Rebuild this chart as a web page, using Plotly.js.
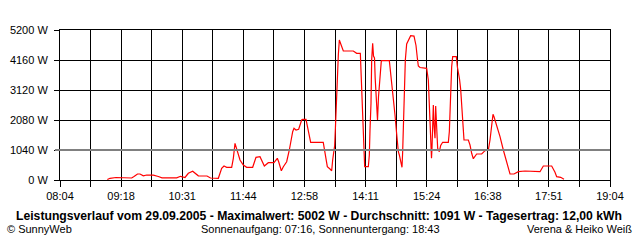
<!DOCTYPE html>
<html><head><meta charset="utf-8">
<script src="https://cdn.plot.ly/plotly-3.0.1.min.js"></script>
<style>html,body{margin:0;padding:0;background:#fff}#c{width:640px;height:240px}</style>
</head><body><div id="c"></div>
<script>
// time in minutes after midnight, power in W
const timeMin = [540.8,544.0,551.2,556.8,558.4,570.0,572.8,577.0,580.0,584.0,588.0,596.0,602.0,606.4,624.0,628.6,634.0,638.0,643.2,650.0,
660.4,664.6,674.0,678.0,680.8,684.0,690.0,692.0,694.0,695.2,696.8,700.0,704.0,708.0,715.2,719.2,724.0,729.2,734.0,740.8,
744.8,746.4,749.6,752.0,756.0,759.2,763.2,764.8,767.2,770.4,774.0,775.2,779.2,780.8,783.2,784.8,799.9,802.0,804.8,808.0,
810.0,811.2,812.8,813.6,814.4,815.2,816.8,818.0,819.2,820.6,822.0,824.0,836.0,838.0,840.0,844.4,845.2,846.6,848.0,849.0,
849.6,854.0,855.2,856.0,857.2,858.0,859.2,860.2,861.4,862.2,863.2,865.0,866.2,868.0,869.6,879.2,880.0,882.0,883.6,884.8,
886.0,887.8,888.8,890.0,891.2,892.8,894.4,895.2,896.0,897.2,898.4,900.0,902.0,904.8,908.8,911.2,912.8,914.0,916.0,924.0,
926.0,927.2,928.0,928.8,929.8,930.4,931.2,932.0,932.8,934.0,934.8,936.0,937.2,939.2,940.8,943.2,950.0,951.2,952.0,953.2,
954.0,955.2,959.6,960.8,962.2,963.4,964.8,966.0,967.2,968.0,968.8,974.0,976.0,978.0,980.0,984.0,990.0,994.0,998.0,1000.0,
1002.0,1003.6,1004.8,1006.0,1008.8,1012.0,1016.0,1020.0,1024.0,1028.8,1034.0,1042.0,1052.0,1060.0,1064.0,1074.0,1078.0,1080.0,1084.8,1088.8];
const powerW = [17,59,87,87,69,69,121,208,208,146,173,166,121,76,76,128,87,232,305,146,
139,69,59,406,485,440,440,752,1272,1154,1040,693,520,440,440,787,808,485,600,600,
752,634,322,461,634,1040,1674,1792,1733,1758,2080,2104,2104,1907,1501,1307,1307,981,461,381,
322,693,981,1189,1733,2659,3467,4333,4853,4739,4593,4472,4472,4427,4392,4392,3872,2888,1966,1040,
461,461,867,1733,2659,4160,4739,4299,4229,3536,3006,2080,2888,3467,4136,4136,3928,3467,2947,2600,
2253,1664,1213,981,867,634,440,981,2021,3061,4160,4715,4853,5002,4990,4663,4229,3952,3900,3872,
3467,2600,1848,1154,752,1099,1907,2600,1907,1446,2565,1560,1099,981,1196,1307,1307,1674,2427,3179,
3928,4274,4274,3928,3709,3501,3144,2659,2139,1674,1387,1387,1213,926,738,901,901,1016,1040,1387,
1907,2278,2194,2080,1848,1501,1040,579,208,208,288,312,295,288,485,485,267,114,94,24];

const axisStart = 484, axisEnd = 1144;   // 08:04 .. 19:04
const xLabels = ['08:04','','09:18','','10:31','','11:44','','12:58','','14:11','','15:24','','16:38','','17:51','','19:04'];
const yVals = [0,1040,2080,3120,4160,5200];
const yLabels = ['0 W','1040 W','2080 W','3120 W','4160 W','5200 W'];
const avgLevel = 1040;
const titleText = 'Leistungsverlauf vom 29.09.2005 - Maximalwert: 5002 W - Durchschnitt: 1091 W - Tagesertrag: 12,00 kWh';
const leftNote = '© SunnyWeb';
const midNote = 'Sonnenaufgang: 07:16, Sonnenuntergang: 18:43';
const rightNote = 'Verena & Heiko Weiß';

const step = (axisEnd - axisStart) / (xLabels.length - 1);
const xVals = xLabels.map((_, i) => axisStart + i * step);

const F = 'Liberation Sans, Arial, sans-serif';
const trace = {x: timeMin, y: powerW, type: 'scatter', mode: 'lines',
  line: {color: '#ff0000', width: 1.2}, hoverinfo: 'skip'};

const layout = {
  width: 640, height: 240,
  margin: {l: 60, r: 30, t: 30, b: 60, pad: 0},
  paper_bgcolor: '#fff', plot_bgcolor: '#fff',
  showlegend: false,
  font: {family: F, size: 11, color: '#000'},
  xaxis: {range: [axisStart, axisEnd], tickmode: 'array', tickvals: xVals, ticktext: xLabels,
    showgrid: true, gridcolor: '#000', gridwidth: 1, zeroline: false,
    showline: true, linecolor: '#000', linewidth: 1, mirror: true,
    ticks: 'outside', ticklen: 6, tickcolor: '#000', tickwidth: 1,
    tickfont: {family: F, size: 11, color: '#000'}, fixedrange: true},
  yaxis: {range: [0, 5200], tickmode: 'array', tickvals: yVals, ticktext: yLabels,
    showgrid: true, gridcolor: '#000', gridwidth: 1, zeroline: false,
    showline: true, linecolor: '#000', linewidth: 1, mirror: true,
    ticks: 'outside', ticklen: 5, tickcolor: '#000', tickwidth: 1,
    ticklabelstandoff: 4,
    tickfont: {family: F, size: 11, color: '#000'}, fixedrange: true},
  shapes: [{type: 'line', xref: 'paper', yref: 'y', x0: -5/550, x1: 1, y0: avgLevel, y1: avgLevel,
    line: {color: '#808080', width: 2}, layer: 'above'}],
  annotations: [
    {xref: 'paper', yref: 'paper', x: 0.47, y: 0, xanchor: 'center', yanchor: 'middle',
     yshift: -36, text: '<b>' + titleText + '</b>', showarrow: false,
     font: {family: F, size: 12.2, color: '#000'}},
    {xref: 'paper', yref: 'paper', x: -55/550, y: 0, xanchor: 'left', yanchor: 'middle',
     yshift: -49, text: leftNote, showarrow: false, font: {family: F, size: 11, color: '#000'}},
    {xref: 'paper', yref: 'paper', x: 260/550, y: 0, xanchor: 'center', yanchor: 'middle',
     yshift: -49, text: midNote, showarrow: false, font: {family: F, size: 11, color: '#000'}},
    {xref: 'paper', yref: 'paper', x: 574/550, y: 0, xanchor: 'right', yanchor: 'middle',
     yshift: -49, text: rightNote, showarrow: false, font: {family: F, size: 11, color: '#000'}}
  ]
};
Plotly.newPlot('c', [trace], layout, {displayModeBar: false, staticPlot: true});
</script></body></html>
